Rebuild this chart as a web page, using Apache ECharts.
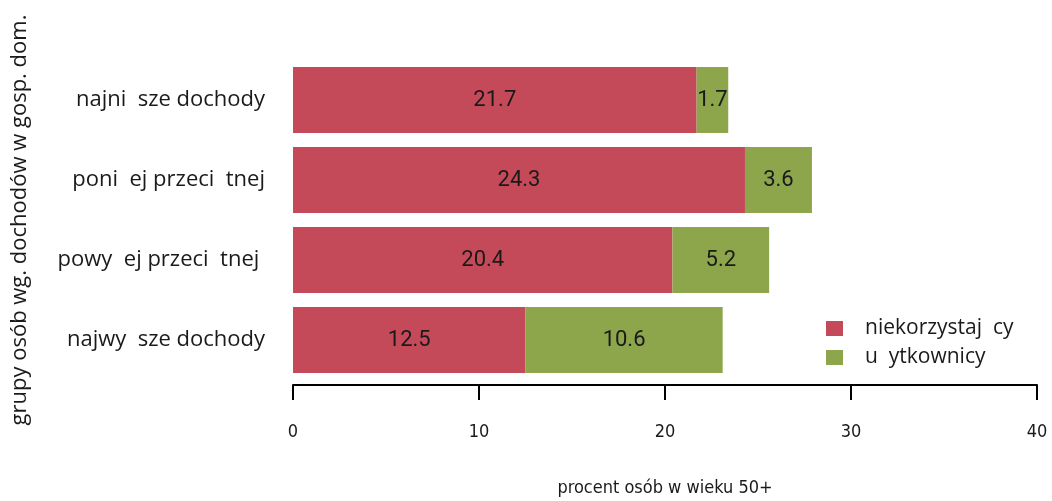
<!DOCTYPE html>
<html>
<head>
<meta charset="utf-8">
<script src="https://cdn.jsdelivr.net/npm/echarts@6/dist/echarts.min.js"></script>
<style>
  html, body { margin: 0; padding: 0; background: #fff; }
  #chart { width: 1052px; height: 501px; }
</style>
</head>
<body>
<div id="chart"></div>
<script>
// grupy dochodowe, od góry do dołu (glify PL zgubione jak w oryginale)
const categories = [
  "najni  sze dochody",
  "poni  ej przeci  tnej",
  "powy  ej przeci  tnej ",
  "najwy  sze dochody"
];
const seriesNames = ["niekorzystaj  cy", "u  ytkownicy"];
const nonUsers = [21.7, 24.3, 20.4, 12.5];
const users = [1.7, 3.6, 5.2, 10.6];
const xTicks = [0, 10, 20, 30, 40];

const NARROW = "DejaVu Sans Condensed";
const TXT = "#1a1a1a";
const RED = "#c44a59";
const GREEN = "#8da64b";

const chart = echarts.init(document.getElementById("chart"));

const barLabel = {
  show: true,
  position: "inside",
  color: TXT,
  fontFamily: "Roboto",
  fontSize: 22,
  formatter: p => p.value.toFixed(1)
};

chart.setOption({
  animation: false,
  backgroundColor: "#fff",
  grid: { left: 293, right: 15, top: 60, height: 320, outerBoundsMode: "none" },
  legend: {
    left: 826,
    top: 318,
    padding: 0,
    orient: "vertical",
    itemWidth: 17,
    itemHeight: 15,
    itemGap: 8,
    icon: "rect",
    textStyle: { fontFamily: "Open Sans", fontSize: 21, color: TXT, padding: [0, 0, 0, 17] },
    data: seriesNames
  },
  xAxis: {
    type: "value",
    min: xTicks[0],
    max: xTicks[xTicks.length - 1],
    interval: 10,
    offset: 5,
    splitLine: { show: false },
    axisLine: { show: true, lineStyle: { color: "#000", width: 2 } },
    axisTick: { show: true, length: 15, lineStyle: { color: "#000", width: 2 } },
    axisLabel: { fontFamily: NARROW, fontSize: 18, color: TXT, margin: 38 },
    name: "procent osób w wieku 50+",
    nameLocation: "middle",
    nameGap: 94,
    nameTextStyle: { fontFamily: NARROW, fontSize: 18, color: TXT }
  },
  yAxis: {
    type: "category",
    inverse: true,
    data: categories,
    axisLine: { show: false },
    axisTick: { show: false },
    axisLabel: { fontFamily: "Open Sans", fontSize: 22, color: TXT, margin: 28 },
    name: "grupy osób wg. dochodów w gosp. dom.",
    nameLocation: "middle",
    nameGap: 262,
    nameRotate: 90,
    nameTextStyle: { fontFamily: "Open Sans", fontSize: 22, color: TXT }
  },
  series: [
    {
      name: seriesNames[0],
      type: "bar",
      stack: "total",
      barWidth: 66,
      itemStyle: { color: RED },
      label: barLabel,
      data: nonUsers
    },
    {
      name: seriesNames[1],
      type: "bar",
      stack: "total",
      barWidth: 66,
      itemStyle: { color: GREEN },
      label: barLabel,
      data: users
    }
  ]
});
</script>
</body>
</html>
